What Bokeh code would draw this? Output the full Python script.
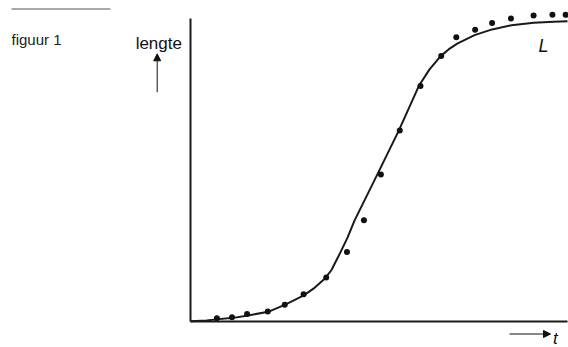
from bokeh.plotting import figure
from bokeh.models import Range1d, Label, Arrow, NormalHead
from bokeh.embed import file_html
from bokeh.resources import INLINE

# ---- data (arbitrary units) ----
t_obs = [1.4, 2.2, 3.0, 4.1, 5.0, 6.0, 7.2, 8.3, 9.2, 10.1,
         11.1, 12.2, 13.3, 14.1, 15.1, 16.0, 17.0, 18.2, 19.2, 19.9]
L_obs = [1.1, 1.4, 2.5, 3.3, 5.5, 9.0, 14.5, 22.9, 33.4, 48.5,
         63.0, 77.7, 87.6, 93.8, 96.3, 98.5, 100.0, 101.0, 101.2, 101.2]

t_curve = [0.0, 0.85, 1.38, 2.27, 3.06, 4.12, 5.0, 6.01, 6.58, 7.12, 7.48, 7.96,
           8.33, 8.70, 9.90, 11.05, 12.11, 12.68, 13.26, 13.69, 14.15, 15.07,
           16.0, 17.03, 18.21, 19.27, 20.0]
L_curve = [0.1, 0.3, 0.7, 1.2, 2.0, 3.2, 5.5, 8.6, 11.1, 14.1, 17.0, 22.9,
           27.7, 33.3, 48.4, 63.0, 77.7, 83.2, 87.5, 89.8, 91.7, 94.5,
           96.4, 97.8, 98.6, 98.9, 99.1]

T_MAX = 20.0
L_AXIS_MAX = 100.0

# ---- layout (screen positions in px from the top-left of the canvas) ----
W, H = 568, 347
OX, OY = 190.0, 321.0          # screen position of the origin
FX, FY = 18.85, 3.03           # px per unit of t and of lengte
FONT = "Liberation Sans"
INK = "#1a1a1a"


def tx(sx):
    return (sx - OX) / FX


def ly(sy):
    return (OY - sy) / FY


p = figure(width=W, height=H, x_range=Range1d(tx(0), tx(W)), y_range=Range1d(ly(H), ly(0)),
           output_backend="svg", toolbar_location=None,
           x_axis_location=None, y_axis_location=None,
           min_border_left=0, min_border_right=0, min_border_top=0, min_border_bottom=0)
p.outline_line_color = None
p.grid.visible = False
p.background_fill_color = "white"
p.border_fill_color = "white"

# axes
p.add_layout(Arrow(x_start=0, y_start=0, x_end=T_MAX, y_end=0, end=None,
                   line_width=2, line_color=INK))
p.add_layout(Arrow(x_start=0, y_start=0, x_end=0, y_end=L_AXIS_MAX, end=None,
                   line_width=2, line_color=INK))

p.line(t_curve, L_curve, line_width=2, line_color=INK, line_join="round")
p.scatter(t_obs, L_obs, size=6, fill_color="#111111", line_color=None)

# top rule and figure caption
p.add_layout(Arrow(x_start=tx(11), y_start=ly(8.5), x_end=tx(110), y_end=ly(8.5),
                   end=None, line_width=1, line_color="#555555"))
p.add_layout(Label(x=tx(11), y=ly(39), text="figuur 1", text_font=FONT,
                   text_font_size="15px", text_color="#222222",
                   text_align="left", text_baseline="alphabetic"))

# y label with arrow
p.add_layout(Label(x=tx(158.3), y=ly(42.5), text="lengte", text_font=FONT,
                   text_font_size="17px", text_color="#111111",
                   text_align="center", text_baseline="alphabetic"))
p.add_layout(Arrow(x_start=tx(156.7), y_start=ly(91.7), x_end=tx(156.7), y_end=ly(53.3),
                   line_width=1, line_color="#111111",
                   end=NormalHead(size=7, fill_color="#111111", line_color="#111111")))

# x label with arrow
p.add_layout(Arrow(x_start=tx(509), y_start=ly(333.5), x_end=tx(550), y_end=ly(333.5),
                   line_width=1, line_color="#111111",
                   end=NormalHead(size=7, fill_color="#111111", line_color="#111111")))
p.add_layout(Label(x=tx(552.5), y=ly(338), text="t", text_font=FONT,
                   text_font_size="17px", text_font_style="italic", text_color="#111111",
                   text_align="left", text_baseline="alphabetic"))

# curve label
p.add_layout(Label(x=tx(538), y=ly(45.5), text="L", text_font=FONT,
                   text_font_size="18px", text_font_style="italic", text_color="#111111",
                   text_align="left", text_baseline="alphabetic"))

open("out.html", "w").write(file_html(p, INLINE))
